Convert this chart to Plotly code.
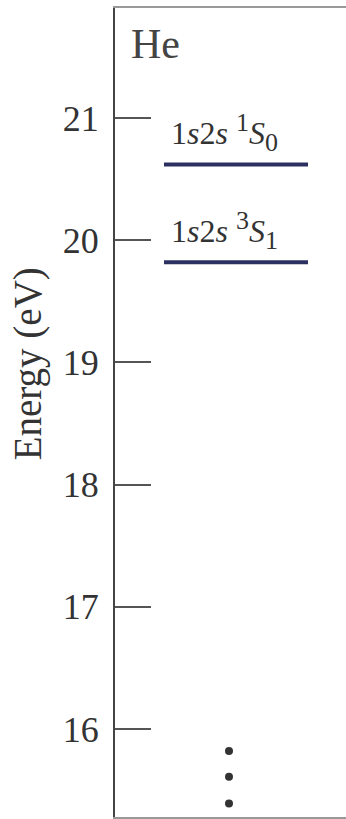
import plotly.graph_objects as go

# data
level_energies = [20.62, 19.82]
level_labels = ["1<i>s</i>2<i>s</i> <sup><span style='font-size:26px'>1</span></sup><i>S</i><sub><span style='font-size:26px'>0</span></sub>",
                "1<i>s</i>2<i>s</i> <sup><span style='font-size:26px'>3</span></sup><i>S</i><sub><span style='font-size:26px'>1</span></sub>"]
tick_vals = [16, 17, 18, 19, 20, 21]
tick_text = ["16", "17", "18", "19", "20", "21"]
dots_energy = [15.82, 15.61, 15.39]
element = "He"
y_title = "Energy (eV)"

SERIF = "Liberation Serif, Times New Roman, serif"
NAVY = "#2b3060"

fig = go.Figure()

line_x0, line_x1 = 49, 193
for e in level_energies:
    fig.add_trace(go.Scatter(x=[line_x0, line_x1], y=[e, e], mode="lines",
                             line=dict(color=NAVY, width=4), hoverinfo="skip",
                             showlegend=False))

fig.add_trace(go.Scatter(x=[114] * len(dots_energy), y=dots_energy, mode="markers",
                         marker=dict(color="#333333", size=8), hoverinfo="skip",
                         showlegend=False))

for e, lab in zip(level_energies, level_labels):
    fig.add_annotation(x=54, y=e, xref="x", yref="y", text=lab, showarrow=False,
                       xanchor="left", yanchor="bottom", yshift=5,
                       font=dict(family=SERIF, size=32, color="#333333"))

fig.add_annotation(x=0.06, y=0.955, xref="paper", yref="paper", text=element,
                   showarrow=False, xanchor="left", yanchor="middle",
                   font=dict(family=SERIF, size=42, color="#444444"))

fig.add_annotation(x=-0.375, y=0.56, xref="paper", yref="paper", text=y_title,
                   showarrow=False, textangle=-90, xanchor="center", yanchor="middle",
                   font=dict(family=SERIF, size=39, color="#333333"))

fig.update_layout(
    width=346, height=819,
    margin=dict(l=115, r=0, t=8, b=2),
    paper_bgcolor="white", plot_bgcolor="white",
    showlegend=False,
    xaxis=dict(range=[0, 231], showgrid=False, zeroline=False, showticklabels=False,
               ticks="", showline=True, mirror=True, linecolor="#999999", linewidth=2),
    yaxis=dict(range=[15.28, 21.9], showgrid=False, zeroline=False,
               tickmode="array", tickvals=tick_vals, ticktext=tick_text,
               ticks="inside", ticklen=36, tickwidth=2, tickcolor="#555555",
               showline=True, linecolor="#444444", linewidth=2,
               ticklabelstandoff=7,
               tickfont=dict(family=SERIF, size=36, color="#333333")),
)

fig.write_html("out.html")
